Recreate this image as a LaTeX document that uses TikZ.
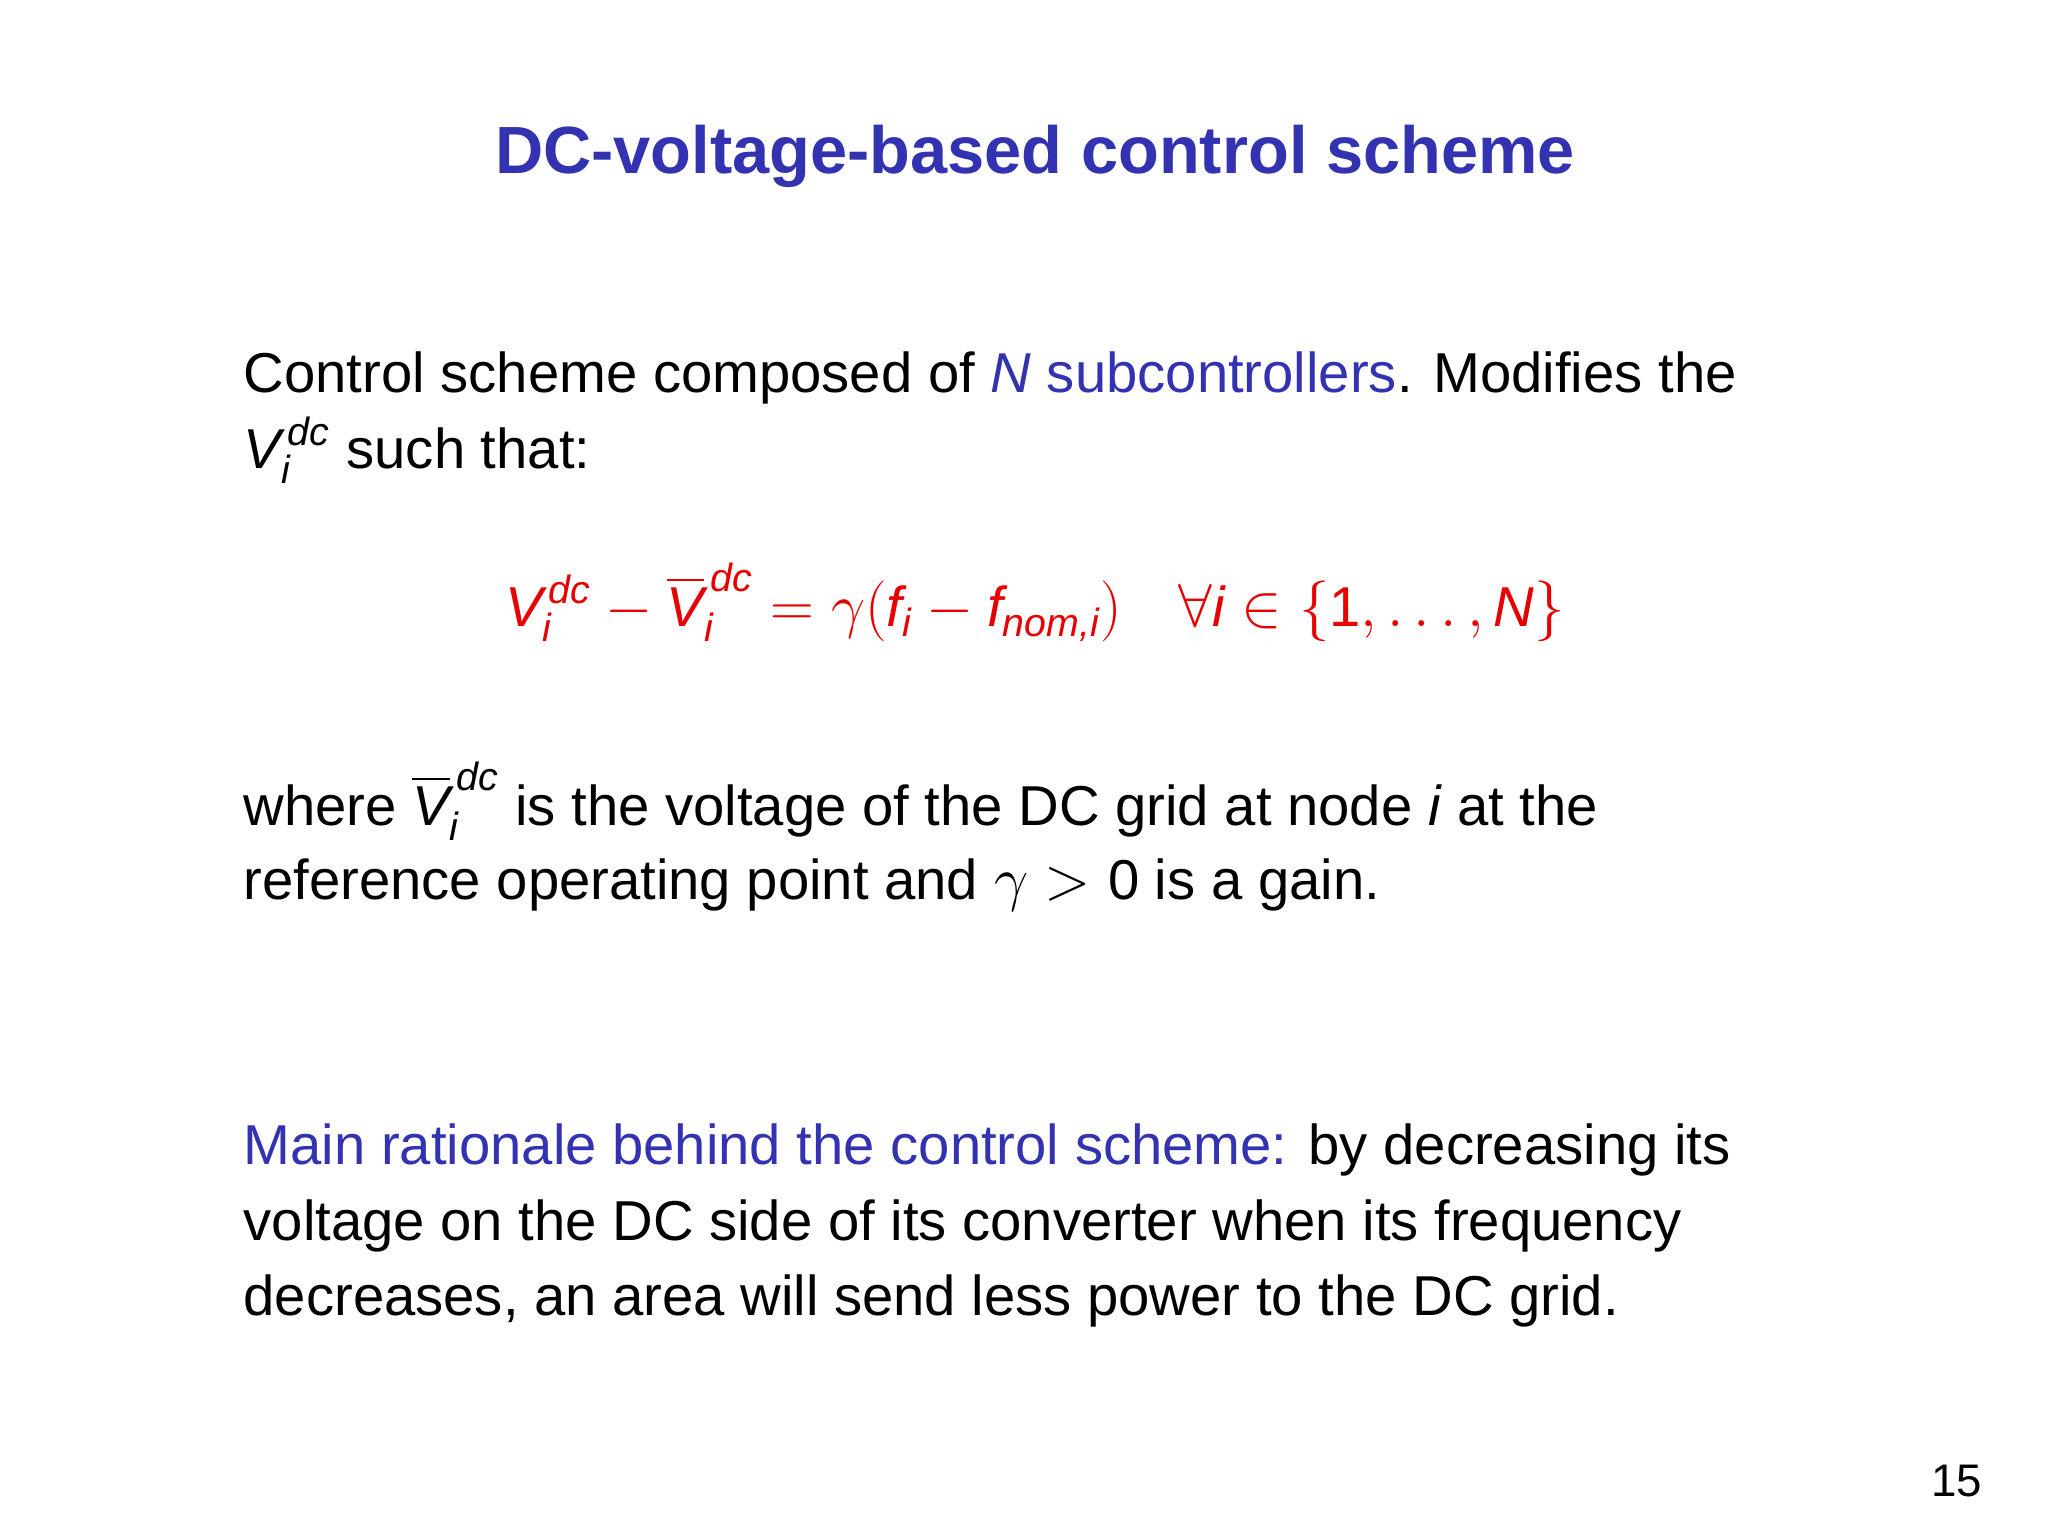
\documentclass[tikz,border=0pt]{standalone}
\usepackage{amsmath}
\usepackage{fontspec}
\setmainfont{Liberation Sans}
\definecolor{tblue}{RGB}{51,51,178}
\definecolor{tred}{RGB}{230,0,0}
\newcommand\iv[1]{\textit{#1}}
\begin{document}
\begin{tikzpicture}[x=1cm,y=1cm,
  body/.style={anchor=base west,inner sep=0pt,font=\fontsize{16}{20}\selectfont}]
\useasboundingbox[fill=white] (0,0) rectangle (20.48,15.36);
\node[anchor=base,inner sep=0pt,font=\fontsize{19}{24}\selectfont\bfseries,text=tblue] (title) at (10.35,13.62) {DC-voltage-based control scheme};
\node[body] (l1) at (2.43,11.43) {Control scheme composed of \textcolor{tblue}{\iv{N} subcontrollers}. Modifies the};
\node[body] (l2) at (2.43,10.67) {$\iv{V}_{\iv{i}}^{\,\iv{dc}}$ such that:};
\node[anchor=base,inner sep=0pt,font=\fontsize{16}{20}\selectfont,text=tred] (eq) at (10.35,9.09)
 {$\iv{V}_{\iv{i}}^{\,\iv{dc}} - \overline{\iv{V}}_{\iv{i}}^{\,\iv{dc}} = \gamma(\iv{f}_{\iv{i}} - \iv{f}_{\iv{nom,i}})\quad \forall \iv{i} \in \{\text{1},\ldots,\iv{N}\}$};
\node[body] (l3) at (2.43,7.1) {where $\overline{\iv{V}}_{\iv{i}}^{\,\iv{dc}}$ is the voltage of the DC grid at node \iv{i} at the};
\node[body] (l4) at (2.43,6.36) {reference operating point and $\gamma>\text{0}$ is a gain.};
\node[body] (l5) at (2.43,3.71) {\textcolor{tblue}{Main rationale behind the control scheme:} by decreasing its};
\node[body] (l6) at (2.43,2.95) {voltage on the DC side of its converter when its frequency};
\node[body] (l7) at (2.43,2.2) {decreases, an area will send less power to the DC grid.};
\node[anchor=base east,inner sep=0pt,font=\fontsize{13}{16}\selectfont] (pg) at (19.83,0.39) {15};
\end{tikzpicture}
\end{document}
